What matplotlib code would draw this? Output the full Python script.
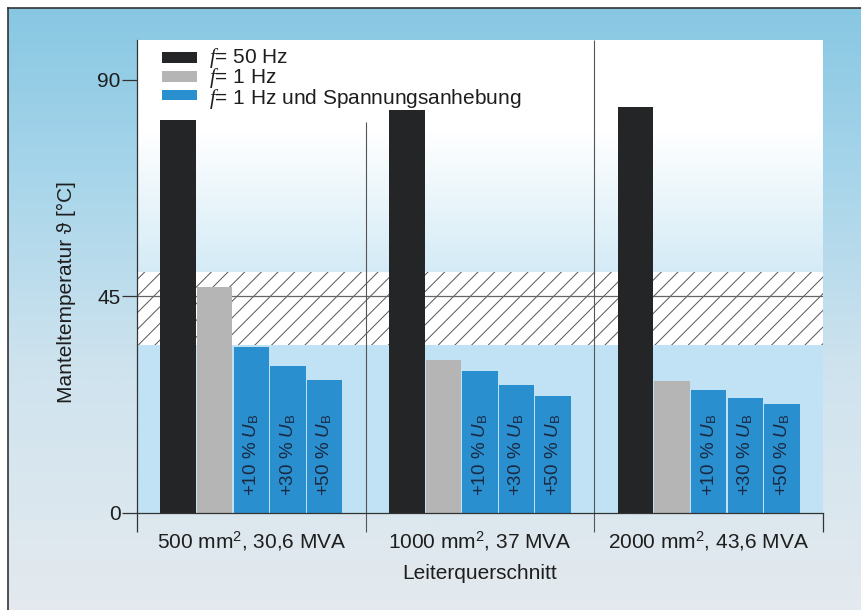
import numpy as np
import matplotlib.pyplot as plt
from matplotlib.patches import Rectangle
from matplotlib.colors import LinearSegmentedColormap

plt.rcParams['font.family'] = ['Liberation Sans', 'DejaVu Sans']
plt.rcParams['mathtext.fontset'] = 'custom'
plt.rcParams['mathtext.rm'] = 'Liberation Sans'
plt.rcParams['mathtext.it'] = 'Liberation Serif:italic'
plt.rcParams['mathtext.sf'] = 'Liberation Sans:italic'
plt.rcParams['hatch.linewidth'] = 0.7
plt.rcParams['hatch.color'] = '#555555'

# Daten
gruppen = ['500 mm$^2$, 30,6 MVA', '1000 mm$^2$, 37 MVA', '2000 mm$^2$, 43,6 MVA']
f50 = [81.7, 83.7, 84.4]
f1 = [47.0, 31.8, 27.4]
f1_10 = [34.6, 29.6, 25.6]
f1_30 = [30.6, 26.6, 23.9]
f1_50 = [27.7, 24.4, 22.7]
band_unten, band_oben = 35, 50
grenzwert = 45
yticks = [0, 45, 90]
balken_texte = ['+10 % $\\mathsf{U}_\\mathrm{B}$', '+30 % $\\mathsf{U}_\\mathrm{B}$', '+50 % $\\mathsf{U}_\\mathrm{B}$']
legende = ['$f$= 50 Hz', '$f$= 1 Hz', '$f$= 1 Hz und Spannungsanhebung']

c_schwarz = '#232527'
c_grau = '#b5b5b5'
c_blau = '#2a8fcf'
c_text = '#1e1e1e'
fs = 15

fig = plt.figure(figsize=(8.62, 6.10), dpi=100)
fig.patch.set_facecolor('white')

# Hintergrund (Verlauf blau -> hellgrau)
bg = fig.add_axes([0, 0, 1, 1], zorder=-10)
bg.set_xlim(0, 862)
bg.set_ylim(610, 0)
bg.axis('off')
cmap_bg = LinearSegmentedColormap.from_list('bg', [(0, '#88c7e2'), (0.25, '#a4d4ea'),
                                                   (0.6, '#cfe3ee'), (1, '#e4eaee')])
grad = np.linspace(0, 1, 256).reshape(-1, 1)
bg.imshow(grad, cmap=cmap_bg, extent=(8, 862, 610, 8), aspect='auto')
bg.plot([8, 862], [8, 8], color='#333333', lw=1.2)
bg.plot([8, 8], [8, 610], color='#333333', lw=1.2)

ax = fig.add_axes([137/862, 97/610, 686/862, 473/610])
ax.set_xlim(0, 3)
ax.set_ylim(0, 98.3)
ax.set_facecolor('#c0e2f4')

# Verlauf oberhalb des Bandes
cmap_ax = LinearSegmentedColormap.from_list('ax', [(0, '#d4ebf6'), (0.6, '#ffffff'), (1, '#ffffff')])
ax.imshow(np.linspace(0, 1, 256).reshape(-1, 1), cmap=cmap_ax, origin='lower',
          extent=(0, 3, band_oben, 98.3), aspect='auto', zorder=0)

# schraffierter Bereich
ax.axhspan(band_unten, band_oben, facecolor='white', edgecolor='#555555', hatch='//', lw=0, zorder=1)
ax.axhline(grenzwert, color='#666666', lw=0.9, zorder=2)

# Trennlinien zwischen den Gruppen
ax.vlines([1, 2], -4, [81.3, 98.3], color='#555555', lw=0.8, zorder=2, clip_on=False)
ax.vlines([0, 3], -4, 0, color='#333333', lw=0.9, zorder=2, clip_on=False)

x = np.arange(3) + 0.5
pitch = 0.16
breite = 0.155
serien = [f50, f1, f1_10, f1_30, f1_50]
farben = [c_schwarz, c_grau, c_blau, c_blau, c_blau]
for i, (werte, farbe) in enumerate(zip(serien, farben)):
    xs = x + (i - 2) * pitch
    ax.bar(xs, werte, width=breite, color=farbe, zorder=3)
    if i >= 2:
        for xx in xs:
            ax.text(xx, 3.5, balken_texte[i - 2], rotation=90, ha='center', va='bottom',
                    fontsize=13.5, color='#1b2840', zorder=4)

# Achsen
ax.set_yticks(yticks)
ax.set_yticklabels([str(v) for v in yticks], fontsize=fs, color=c_text)
ax.tick_params(axis='y', direction='out', length=11, width=0.9, color='#333333', pad=0.8)
ax.set_xticks(x)
ax.set_xticklabels(gruppen, fontsize=fs, color=c_text)
ax.tick_params(axis='x', length=0, pad=12)
for s in ['top', 'right']:
    ax.spines[s].set_visible(False)
for s in ['left', 'bottom']:
    ax.spines[s].set_color('#333333')
    ax.spines[s].set_linewidth(0.9)
    ax.spines[s].set_zorder(5)

ax.set_ylabel('Manteltemperatur ϑ [°C]', fontsize=fs, color=c_text)
ax.yaxis.set_label_coords(-0.0885, 0.468)
ax.set_xlabel('Leiterquerschnitt', fontsize=fs, color=c_text, labelpad=8)

# Legende (von Hand, eng gesetzt wie im Original)
def px2ax(px, py):
    return (px - 137) / 686, (513 - py) / 473

zeilenabstand = 18.6
for k, farbe in enumerate([c_schwarz, c_grau, c_blau]):
    y_oben = 52.5 + k * zeilenabstand
    x0, y0 = px2ax(162, y_oben + 10.5)
    ax.add_patch(Rectangle((x0, y0), 35 / 686, 10.5 / 473, transform=ax.transAxes,
                           facecolor=farbe, edgecolor='none', zorder=6, clip_on=False))
tx, ty = px2ax(209, 45.5)
ax.text(tx, ty, '\n'.join(legende), transform=ax.transAxes, fontsize=15, color=c_text,
        ha='left', va='top', linespacing=0.8, zorder=6)

fig.savefig('out.png', dpi=100)
